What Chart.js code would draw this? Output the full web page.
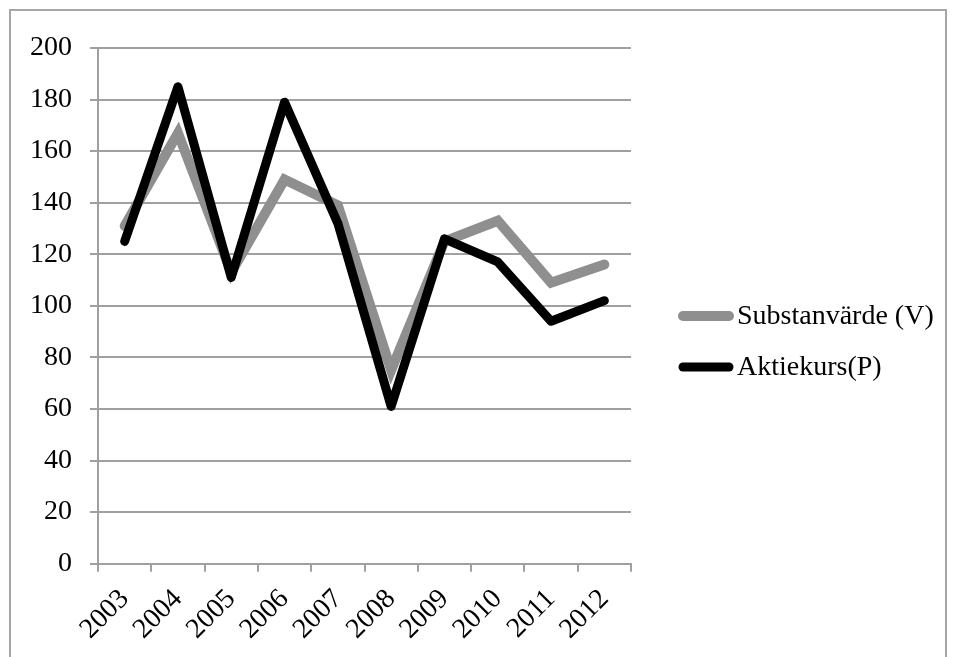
<!DOCTYPE html>
<html>
<head>
<meta charset="utf-8">
<script src="https://cdn.jsdelivr.net/npm/chart.js@4/dist/chart.umd.min.js"></script>
<style>
  body { margin: 0; background: #fff; }
  #frame { position: absolute; left: 9px; top: 9px; width: 934px; height: 700px; border: 2px solid #a6a6a6; }
  #wrap { position: absolute; left: 0; top: 0; width: 957px; height: 657px; }
</style>
</head>
<body>
<div id="frame"></div>
<div id="wrap"><canvas id="myChart" width="957" height="657"></canvas></div>
<script>
const years = ['2003', '2004', '2005', '2006', '2007', '2008', '2009', '2010', '2011', '2012'];
const substanvarde = [131, 167, 113, 149, 139, 75, 125, 133, 109, 116];
const aktiekurs = [125, 185, 111, 179, 132, 61, 126, 117, 94, 102];

const gridColor = '#a0a0a0';
const fontFamily = '"Liberation Serif", "Times New Roman", serif';

Chart.defaults.font.family = fontFamily;
Chart.defaults.font.size = 28;
Chart.defaults.color = '#000';

// legend drawn to the right of the plot, line sample touching the text (Excel style)
const sideLegend = {
    id: 'sideLegend',
    afterDraw(chart) {
        const ctx = chart.ctx;
        const area = chart.chartArea;
        const x0 = area.right + 52;
        const x1 = x0 + 46;
        const rows = [316, 367];
        ctx.save();
        ctx.font = '28px ' + fontFamily;
        ctx.textBaseline = 'middle';
        ctx.textAlign = 'left';
        chart.data.datasets.forEach((ds, i) => {
            const y = rows[i];
            ctx.beginPath();
            ctx.strokeStyle = ds.borderColor;
            ctx.lineWidth = ds.borderWidth;
            ctx.lineCap = 'round';
            ctx.moveTo(x0, y);
            ctx.lineTo(x1, y);
            ctx.stroke();
            ctx.fillStyle = '#000';
            ctx.fillText(ds.label, x1 + 8, y + 1);
        });
        ctx.restore();
    }
};

const ctx = document.getElementById('myChart').getContext('2d');
const myChart = new Chart(ctx, {
    type: 'line',
    data: {
        labels: years,
        datasets: [{
            label: 'Substanvärde (V)',
            data: substanvarde,
            borderColor: '#8f8f8f',
            backgroundColor: '#8f8f8f',
            borderWidth: 10,
            borderJoinStyle: 'miter',
            borderCapStyle: 'round',
            pointRadius: 0,
            tension: 0,
            order: 2
        }, {
            label: 'Aktiekurs(P)',
            data: aktiekurs,
            borderColor: '#000000',
            backgroundColor: '#000000',
            borderWidth: 9,
            borderJoinStyle: 'round',
            borderCapStyle: 'round',
            pointRadius: 0,
            tension: 0,
            order: 1
        }]
    },
    options: {
        responsive: false,
        animation: false,
        layout: {
            padding: { left: 12, top: 48, right: 326, bottom: 0 }
        },
        plugins: {
            tooltip: { enabled: false },
            legend: { display: false }
        },
        scales: {
            x: {
                offset: true,
                grid: {
                    offset: true,
                    drawOnChartArea: false,
                    tickLength: 8,
                    tickColor: gridColor,
                    lineWidth: 2
                },
                border: { color: gridColor, width: 2 },
                ticks: {
                    minRotation: 45,
                    maxRotation: 45,
                    padding: 11
                }
            },
            y: {
                min: 0,
                max: 200,
                grid: {
                    color: gridColor,
                    lineWidth: 2,
                    tickLength: 8,
                    tickColor: gridColor
                },
                border: { color: gridColor, width: 2 },
                ticks: {
                    stepSize: 20,
                    padding: 18
                }
            }
        }
    },
    plugins: [sideLegend]
});
</script>
</body>
</html>
